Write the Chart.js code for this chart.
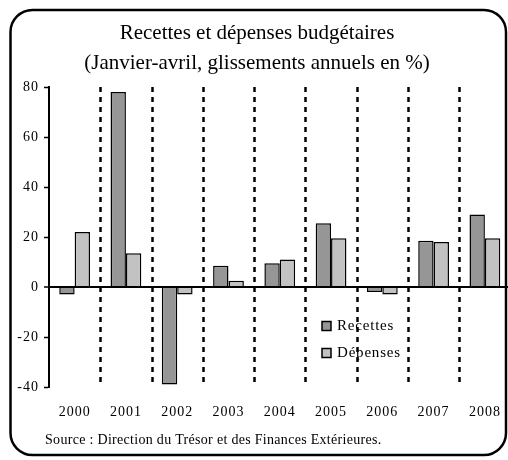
<!DOCTYPE html>
<html>
<head>
<meta charset="utf-8">
<script src="https://cdn.jsdelivr.net/npm/chart.js@4.4.1/dist/chart.umd.min.js"></script>
<style>
  html, body { margin: 0; padding: 0; background: #fff; overflow: hidden; width: 508px; height: 460px; }
  canvas { display: block; }
</style>
</head>
<body>
<canvas id="budget" width="516" height="460"></canvas>
<script>
// Données (glissements annuels en %)
const annees = ['2000', '2001', '2002', '2003', '2004', '2005', '2006', '2007', '2008'];
const recettes = [-3, 78, -39, 8.5, 9.5, 25.5, -2, 18.5, 29];
const depenses = [22, 13.5, -3, 2.5, 11, 19.5, -3, 18, 19.5];
const graduations = [80, 60, 40, 20, 0, -20, -40];

const titre = ['Recettes et dépenses budgétaires', '(Janvier-avril, glissements annuels en %)'];
const source = 'Source : Direction du Trésor et des Finances Extérieures.';

const serif = '"Liberation Serif", "Times New Roman", serif';

// cadre, titre, séparateurs pointillés, légende et source
const decor = {
    id: 'decor',
    beforeDraw(chart) {
        chart.ctx.letterSpacing = '1px';
    },
    beforeDatasetsDraw(chart) {
        const { ctx, chartArea } = chart;
        const x = chart.scales.x;
        ctx.save();
        ctx.strokeStyle = '#000';
        ctx.lineWidth = 2.5;
        ctx.setLineDash([5, 5]);
        for (let i = 0; i < annees.length - 1; i++) {
            const px = Math.round((x.getPixelForTick(i) + x.getPixelForTick(i + 1)) / 2) + 0.5;
            ctx.beginPath();
            ctx.moveTo(px, chartArea.top);
            ctx.lineTo(px, chartArea.bottom);
            ctx.stroke();
        }
        ctx.restore();
    },
    afterDraw(chart) {
        const ctx = chart.ctx;
        ctx.save();
        ctx.letterSpacing = '0px';
        ctx.fillStyle = '#000';
        ctx.textAlign = 'center';
        ctx.textBaseline = 'middle';
        ctx.font = '21px ' + serif;
        ctx.fillText(titre[0], 257, 33);
        ctx.fillText(titre[1], 257, 63);

        // légende
        ctx.textAlign = 'left';
        ctx.font = '15px ' + serif;
        ctx.letterSpacing = '0.8px';
        chart.data.datasets.forEach((ds, i) => {
            const y = 326 + i * 27;
            ctx.fillStyle = ds.backgroundColor;
            ctx.fillRect(322, y - 4.5, 9, 9);
            ctx.lineWidth = 1.5;
            ctx.strokeStyle = '#000';
            ctx.strokeRect(322, y - 4.5, 9, 9);
            ctx.fillStyle = '#000';
            ctx.fillText(ds.label, 337, y);
        });

        // source
        ctx.font = '14px ' + serif;
        ctx.letterSpacing = '0.3px';
        ctx.fillText(source, 45, 440);

        // cadre arrondi
        ctx.lineWidth = 2.5;
        ctx.strokeStyle = '#000';
        ctx.beginPath();
        ctx.roundRect(10.5, 10, 495.5, 445, 22);
        ctx.stroke();
        ctx.restore();
    }
};

new Chart(document.getElementById('budget'), {
    type: 'bar',
    data: {
        labels: annees,
        datasets: [
            {
                label: 'Recettes',
                data: recettes,
                backgroundColor: '#969696',
                borderColor: '#000',
                borderWidth: 1.5
            },
            {
                label: 'Dépenses',
                data: depenses,
                backgroundColor: '#c2c2c2',
                borderColor: '#000',
                borderWidth: 1.5
            }
        ]
    },
    options: {
        responsive: false,
        animation: false,
        devicePixelRatio: 1,
        layout: { padding: { left: 0, right: 2, top: 87, bottom: 0 } },
        datasets: {
            bar: { categoryPercentage: 0.6, barPercentage: 1.0 }
        },
        plugins: {
            legend: { display: false },
            title: { display: false },
            tooltip: { enabled: false }
        },
        scales: {
            x: {
                grid: { display: false, drawTicks: false },
                border: { display: false },
                ticks: {
                    color: '#000',
                    padding: 17,
                    font: { family: serif, size: 14 }
                },
                afterFit(s) { s.height = 73; }
            },
            y: {
                min: -40,
                max: 80,
                afterBuildTicks(s) {
                    s.ticks = graduations.map(v => ({ value: v }));
                },
                grid: {
                    color: c => (c.tick && c.tick.value === 0 ? '#000' : 'rgba(0,0,0,0)'),
                    lineWidth: c => (c.tick && c.tick.value === 0 ? 2 : 1),
                    tickColor: '#000',
                    tickLength: 5,
                    tickWidth: 1.5
                },
                border: { display: true, color: '#000', width: 2 },
                ticks: {
                    color: '#000',
                    padding: 5,
                    font: { family: serif, size: 14 }
                },
                afterFit(s) { s.width = 49; }
            }
        }
    },
    plugins: [decor]
});
</script>
</body>
</html>
